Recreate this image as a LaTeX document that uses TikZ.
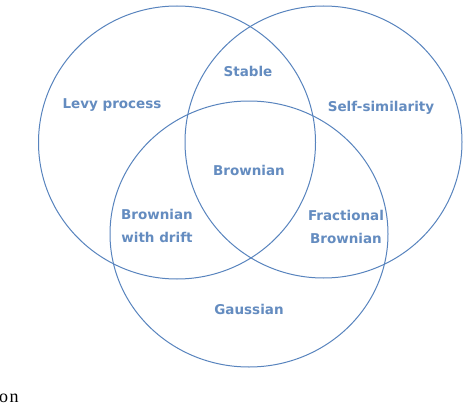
\documentclass[tikz,border=0pt]{standalone}
\usepackage{fontspec}
\newfontfamily\labelfont{DejaVu Sans}
\newfontfamily\capfont{Liberation Serif}
\definecolor{ringblue}{RGB}{88,132,190}
\definecolor{textblue}{RGB}{100,140,192}
\tikzset{
  ring/.style={draw=ringblue, line width=1pt},
  lbl/.style={text=textblue, font=\labelfont\bfseries\fontsize{13.5}{23}\selectfont, inner sep=0pt, align=center},
}
\begin{document}
\begin{tikzpicture}[x=1pt,y=-1pt]
\useasboundingbox (0,0) rectangle (474,404);
\fill[white] (0,0) rectangle (474,404);
\coordinate (cl) at (177,142.5);
\coordinate (cr) at (323.5,142);
\coordinate (cb) at (249,234);
\draw[ring] (cl) ellipse [x radius=138.5, y radius=136.5];
\draw[ring] (cr) ellipse [x radius=138.5, y radius=136];
\draw[ring] (cb) ellipse [x radius=139, y radius=133];
\node[lbl, anchor=base] (levy) at (112,108) {Levy process};
\node[lbl, anchor=base] (stable) at (248,77) {Stable};
\node[lbl, anchor=base] (self) at (381,111) {Self-similarity};
\node[lbl, anchor=base] (brown) at (249,175) {Brownian};
\node[lbl] (drift) at (157,226) {Brownian\\with drift};
\node[lbl] (frac) at (346,227) {Fractional\\Brownian};
\node[lbl, anchor=base] (gauss) at (249,314) {Gaussian};
\node[font=\capfont\fontsize{18}{20}\selectfont, anchor=base east, inner sep=0pt] (cap) at (18.8,402) {o\kern1.6pt n};
\end{tikzpicture}
\end{document}
